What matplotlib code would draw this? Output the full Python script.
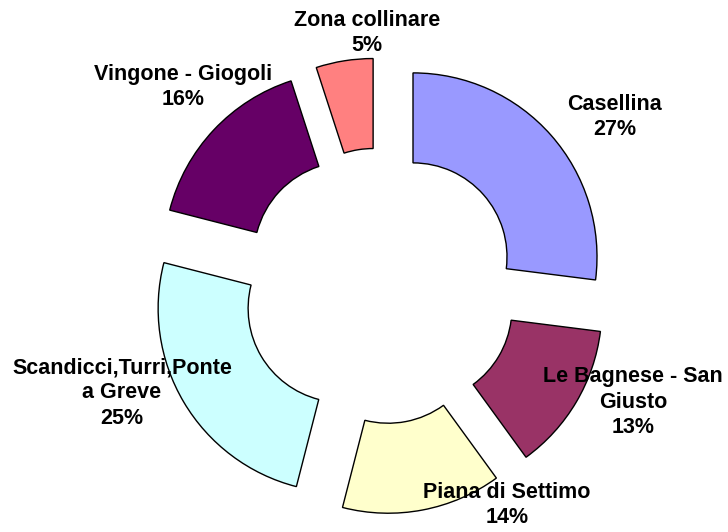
import matplotlib.pyplot as plt

# Data for the exploded doughnut
zones = ['Casellina', 'Le Bagnese - San\nGiusto', 'Piana di Settimo',
         'Scandicci,Turri,Ponte\na Greve', 'Vingone - Giogoli', 'Zona collinare']
shares = [27, 13, 14, 25, 16, 5]
colors = ['#9999FF', '#993366', '#FFFFCC', '#CCFFFF', '#660066', '#FF8080']

# Label positions (pixels, origin bottom-left)
label_pos = [(615, 415), (633, 130), (507, 27), (122, 139), (183, 445), (367, 499)]

fig = plt.figure(figsize=(7.28, 5.32), dpi=100)
ax = fig.add_axes([0, 0, 1, 1])

# Draw the ring, each slice pushed outward
ax.pie(shares, colors=colors, startangle=90, counterclock=False,
       center=(380, 246), radius=184, explode=[44] * len(shares),
       wedgeprops=dict(width=90, edgecolor='black', linewidth=1))

ax.set_xlim(0, 728)
ax.set_ylim(0, 532)
ax.set_aspect('equal')
ax.axis('off')

# Category labels with percentages
for name, val, (x, y) in zip(zones, shares, label_pos):
    ax.text(x, y, f"{name}\n{val}%", ha='center', va='center', multialignment='center',
            fontsize=15.5, fontweight='bold', family='Liberation Sans', linespacing=1.28)

plt.savefig('out.png', dpi=100)
